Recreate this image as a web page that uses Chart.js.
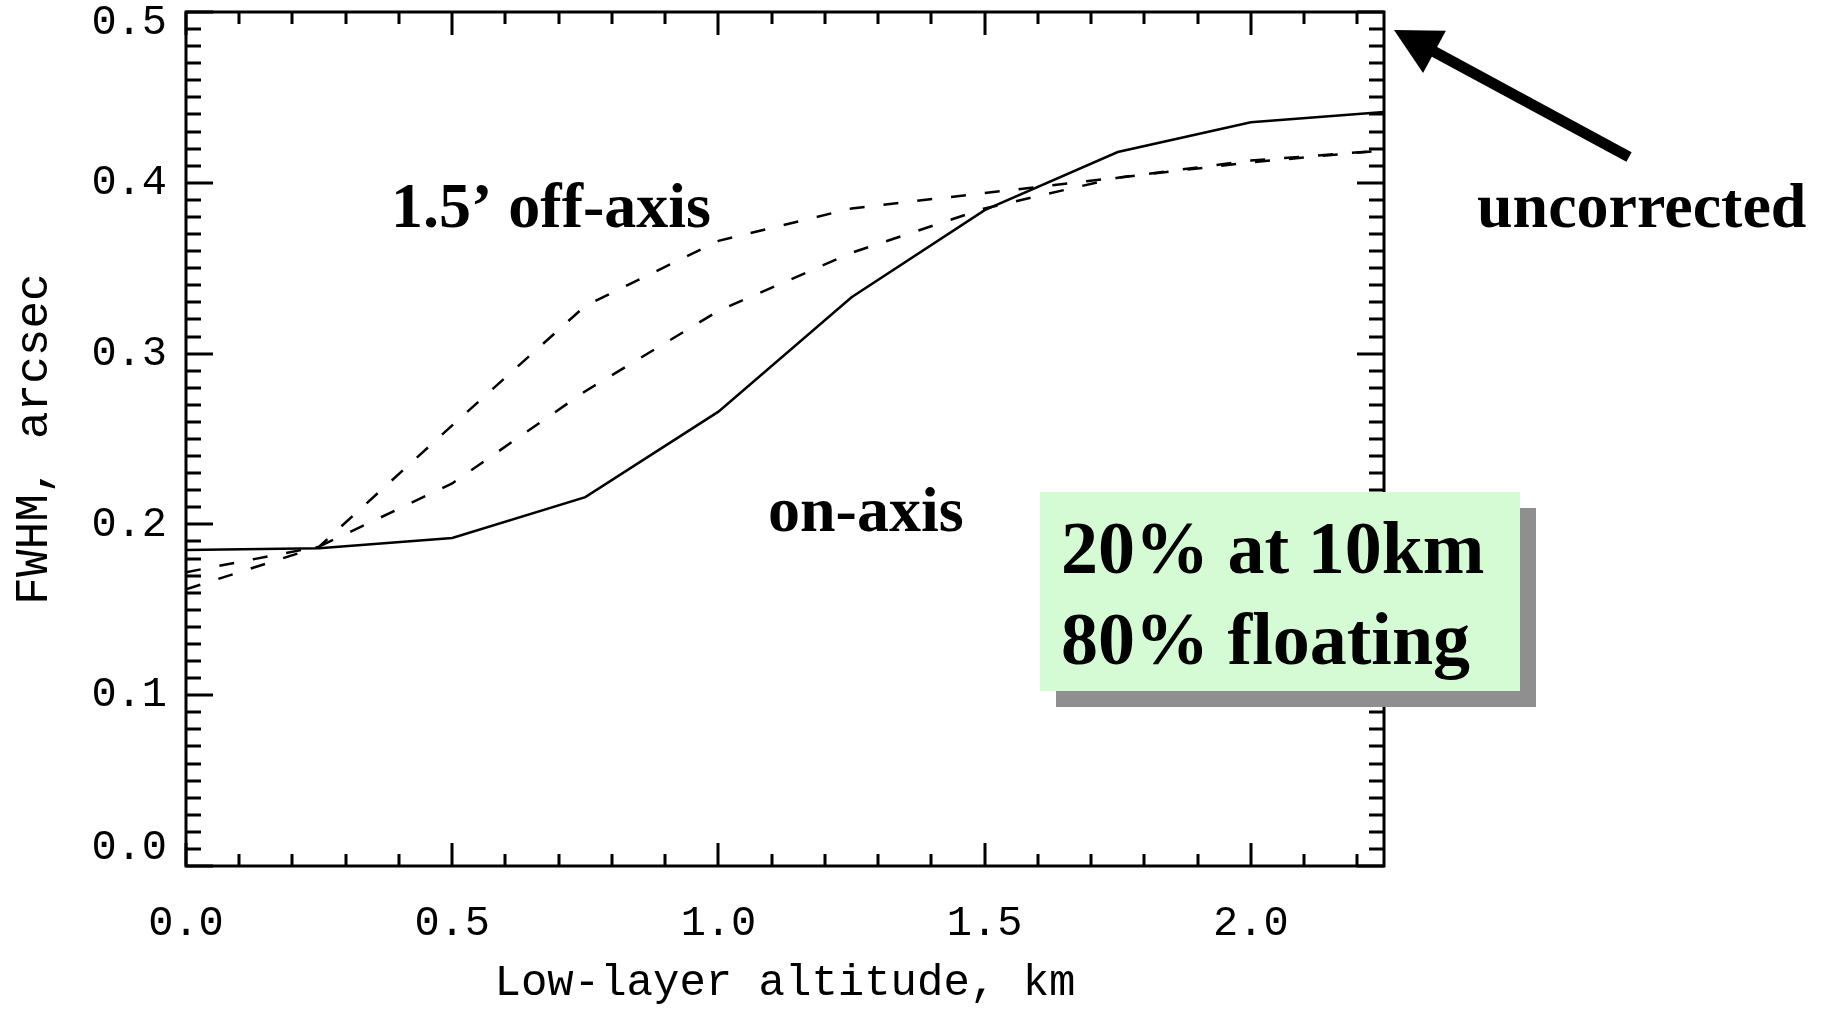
<!DOCTYPE html>
<html>
<head>
<meta charset="utf-8">
<title>FWHM vs low-layer altitude</title>
<script src="https://cdn.jsdelivr.net/npm/chart.js@4.4.1/dist/chart.umd.min.js"></script>
<style>
  html, body { margin: 0; padding: 0; background: #fff; }
  #wrap { width: 1829px; height: 1010px; position: relative; }
</style>
</head>
<body>
<div id="wrap"><canvas id="fwhmChart"></canvas></div>
<script>
// low-layer altitude, km
const altitudes = [0, 0.25, 0.5, 0.75, 1.0, 1.25, 1.5, 1.75, 2.0, 2.25];
// FWHM, arcsec
const onAxis     = [0.185, 0.186, 0.192, 0.216, 0.266, 0.333, 0.384, 0.418, 0.4355, 0.4415];
const offAxis15  = [0.162, 0.187, 0.258, 0.328, 0.366, 0.385, 0.394, 0.403, 0.412, 0.419];
const offAxisMid = [0.172, 0.187, 0.224, 0.278, 0.325, 0.359, 0.385, 0.403, 0.413, 0.419];

const xTicks = [0.0, 0.5, 1.0, 1.5, 2.0];
const yTicks = [0.0, 0.1, 0.2, 0.3, 0.4, 0.5];

const monoFont = "'Liberation Mono', 'DejaVu Sans Mono', monospace";
const serifFont = "'Liberation Serif', 'DejaVu Serif', serif";

function toPoints(ys) {
  return altitudes.map((x, i) => ({ x: x, y: ys[i] }));
}

// IDL keeps the end labels of the y axis inside the box: nudge them
const endLabels = {
  id: "endLabels",
  beforeDraw(chart) {
    const items = chart.scales.y.getLabelItems(chart.chartArea);
    items.forEach(it => {
      if (it.label === "0.0") it.options.translation[1] -= 18;
      if (it.label === "0.5") it.options.translation[1] += 11;
    });
  }
};

// IDL-style box with inward ticks, plus the slide annotations
const idlFrame = {
  id: "idlFrame",
  afterDraw(chart) {
    const { ctx, chartArea: a, scales: { x, y } } = chart;
    ctx.save();
    ctx.strokeStyle = "#000";
    ctx.lineWidth = 3;
    ctx.beginPath();
    for (let i = 0; i <= 22; i++) {
      const px = Math.round(x.getPixelForValue(i / 10));
      const len = i % 5 === 0 ? 23 : 12;
      ctx.moveTo(px, a.bottom); ctx.lineTo(px, a.bottom - len);
      ctx.moveTo(px, a.top); ctx.lineTo(px, a.top + len);
    }
    for (let i = 0; i <= 50; i++) {
      const py = Math.round(y.getPixelForValue(i / 100));
      const len = i % 10 === 0 ? 27 : 15;
      ctx.moveTo(a.left, py); ctx.lineTo(a.left + len, py);
      ctx.moveTo(a.right, py); ctx.lineTo(a.right - len, py);
    }
    ctx.stroke();
    ctx.strokeRect(a.left, a.top, a.width, a.height);

    // curve labels
    ctx.fillStyle = "#000";
    ctx.textBaseline = "alphabetic";
    ctx.textAlign = "left";
    ctx.font = "bold 64px " + serifFont;
    ctx.fillText("1.5\u2019 off-axis", 391, 227);
    ctx.fillText("on-axis", 768, 531);
    ctx.fillText("uncorrected", 1477, 227);

    // arrow to the top right corner
    const tip = [1394, 30], tail = [1629, 157];
    const dx = tip[0] - tail[0], dy = tip[1] - tail[1];
    const d = Math.hypot(dx, dy), ux = dx / d, uy = dy / d;
    const headLen = 46, headHalf = 24;
    const bx = tip[0] - ux * headLen, by = tip[1] - uy * headLen;
    ctx.lineWidth = 11;
    ctx.beginPath();
    ctx.moveTo(tail[0], tail[1]);
    ctx.lineTo(bx + ux * 2, by + uy * 2);
    ctx.stroke();
    ctx.beginPath();
    ctx.moveTo(tip[0], tip[1]);
    ctx.lineTo(bx - uy * headHalf, by + ux * headHalf);
    ctx.lineTo(bx + uy * headHalf, by - ux * headHalf);
    ctx.closePath();
    ctx.fill();

    // green note box with shadow
    ctx.fillStyle = "#8f8f8f";
    ctx.fillRect(1056, 508, 480, 199);
    ctx.fillStyle = "#d4fbd4";
    ctx.fillRect(1040, 492, 480, 199);
    ctx.fillStyle = "#000";
    ctx.font = "bold 74px " + serifFont;
    ctx.fillText("20% at 10km", 1061, 573);
    ctx.fillText("80% floating", 1061, 664);
    ctx.restore();
  }
};

const ctx = document.getElementById("fwhmChart").getContext("2d");
new Chart(ctx, {
  type: "line",
  data: {
    datasets: [
      { label: "on-axis", data: toPoints(onAxis), borderColor: "#000", borderWidth: 2.5 },
      { label: "1.5' off-axis", data: toPoints(offAxis15), borderColor: "#000", borderWidth: 2.5, borderDash: [15, 19] },
      { label: "intermediate", data: toPoints(offAxisMid), borderColor: "#000", borderWidth: 2.5, borderDash: [15, 19] }
    ]
  },
  options: {
    responsive: true,
    maintainAspectRatio: false,
    animation: false,
    devicePixelRatio: 1,
    layout: { autoPadding: false, padding: { top: 12, right: 445, left: 0, bottom: 0 } },
    elements: { point: { radius: 0 }, line: { tension: 0, fill: false } },
    plugins: { legend: { display: false }, tooltip: { enabled: false } },
    scales: {
      x: {
        type: "linear",
        min: 0,
        max: 2.25,
        afterBuildTicks: s => { s.ticks = xTicks.map(v => ({ value: v })); },
        afterFit: s => { s.height = 144; s.paddingLeft = 0; s.paddingRight = 0; },
        grid: { display: false, drawTicks: false },
        border: { display: false },
        ticks: {
          padding: 33,
          color: "#000",
          maxRotation: 0,
          autoSkip: false,
          font: { family: monoFont, size: 42 },
          callback: v => Number(v).toFixed(1)
        },
        title: {
          display: true,
          text: "Low-layer altitude, km",
          color: "#000",
          font: { family: monoFont, size: 44 },
          padding: 0
        }
      },
      y: {
        type: "linear",
        min: 0,
        max: 0.5,
        afterBuildTicks: s => { s.ticks = yTicks.map(v => ({ value: v })); },
        afterFit: s => { s.width = 186; s.paddingTop = 0; s.paddingBottom = 0; },
        grid: { display: false, drawTicks: false },
        border: { display: false },
        ticks: {
          padding: 19,
          color: "#000",
          font: { family: monoFont, size: 42 },
          callback: v => Number(v).toFixed(1)
        },
        title: {
          display: true,
          text: "FWHM, arcsec",
          color: "#000",
          font: { family: monoFont, size: 46 },
          padding: { top: 7, bottom: 0 }
        }
      }
    }
  },
  plugins: [endLabels, idlFrame]
});
</script>
</body>
</html>
